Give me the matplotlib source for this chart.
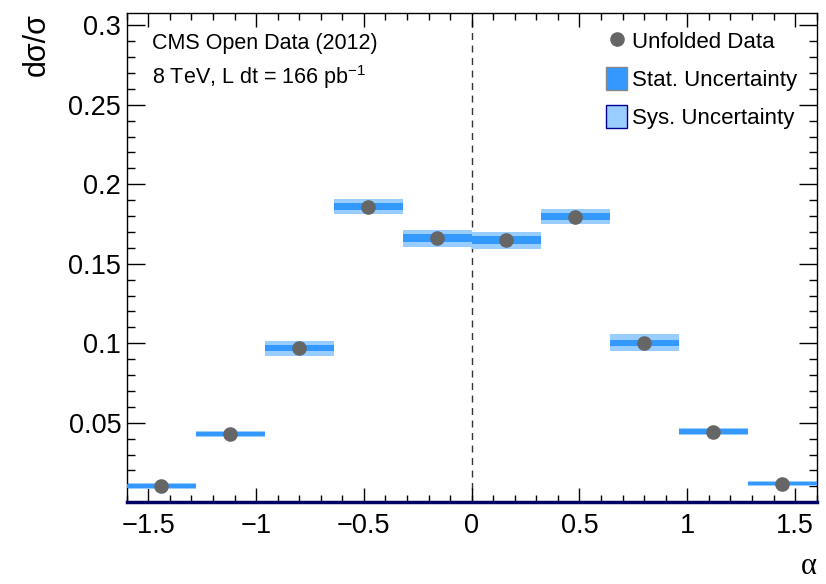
import matplotlib
import numpy as np

matplotlib.use("Agg")
import matplotlib.pyplot as plt
from matplotlib.lines import Line2D
from matplotlib.patches import Patch
from matplotlib.ticker import MultipleLocator

plt.rcParams["font.family"] = ["Liberation Sans", "DejaVu Sans"]
plt.rcParams["mathtext.fontset"] = "custom"
plt.rcParams["mathtext.rm"] = "Liberation Sans"

# 10 bins in alpha, edges -1.6 .. 1.6
BIN_EDGES = np.linspace(-1.6, 1.6, 11)
XSEC = [0.0103, 0.0430, 0.0968, 0.1859, 0.1660, 0.1647, 0.1796, 0.1004, 0.0445, 0.0118]
STAT = [0.0012, 0.0015, 0.0019, 0.0023, 0.0025, 0.0025, 0.0023, 0.0019, 0.0015, 0.0012]
SYS = [0.0018, 0.0021, 0.0049, 0.0046, 0.0055, 0.0055, 0.0046, 0.0053, 0.0021, 0.0018]

STAT_C = "#3399ff"
SYS_C = "#99ccff"

centers = 0.5 * (BIN_EDGES[:-1] + BIN_EDGES[1:])
width = np.diff(BIN_EDGES)
y = np.array(XSEC); st = np.array(STAT); sy = np.array(SYS)

fig = plt.figure(figsize=(8.26, 5.84), dpi=100)
ax = fig.add_axes([0.1534, 0.1399, 0.8353, 0.8373])

ax.bar(centers, 2 * sy, width=width, bottom=y - sy, color=SYS_C, lw=0, zorder=2)
ax.bar(centers, 2 * st, width=width, bottom=y - st, color=STAT_C, lw=0, zorder=3)
ax.plot(centers, y, "o", color="#666666", ms=9.5, zorder=5)
ax.axvline(0, color="#333333", lw=1.0, ls=(0, (5, 4)), zorder=1)
ax.axhline(0, color="#000066", lw=2.5, zorder=6, clip_on=False)

ax.set_xlim(-1.6, 1.6)
ax.set_ylim(0, 0.3075)
ax.xaxis.set_minor_locator(MultipleLocator(0.1))
ax.yaxis.set_minor_locator(MultipleLocator(0.01))
ax.set_xticks([-1.5, -1, -0.5, 0, 0.5, 1, 1.5])
ax.set_xticklabels(["\u22121.5", "\u22121", "\u22120.5", "0", "0.5", "1", "1.5"])
ax.set_yticks([0.05, 0.1, 0.15, 0.2, 0.25, 0.3])
ax.set_yticklabels(["0.05", "0.1", "0.15", "0.2", "0.25", "0.3"])
ax.tick_params(which="both", direction="in", top=True, right=True, labelsize=19.5, width=1.0)
ax.tick_params(axis="x", which="major", length=10, pad=8)
ax.tick_params(axis="x", which="minor", length=5)
ax.tick_params(axis="y", which="major", length=13, pad=4)
ax.tick_params(axis="y", which="minor", length=6)
for s in ax.spines.values():
    s.set_linewidth(1.0)

ax.set_ylabel("d\u03c3/\u03c3", fontsize=22, loc="top", labelpad=12)
ax.set_xlabel("\u03b1", fontsize=22, loc="right", family=["Liberation Serif"], labelpad=9)

ax.text(0.037, 0.939, "CMS Open Data (2012)", transform=ax.transAxes, fontsize=15.5, va="center")
ax.text(0.037, 0.869, "8 TeV, L dt = 166 pb$^{-1}$", transform=ax.transAxes, fontsize=15.5,
        va="center")

handles = [
    Line2D([], [], marker="o", ls="none", color="#666666", ms=9.5),
    Patch(facecolor=STAT_C, edgecolor="#888888", lw=1.0),
    Patch(facecolor=SYS_C, edgecolor="#000099", lw=1.0),
]
labels = ["Unfolded Data", "Stat. Uncertainty", "Sys. Uncertainty"]
ax.legend(handles, labels, loc="upper left", bbox_to_anchor=(0.695, 0.967), frameon=False,
          fontsize=16, handlelength=0.95, handleheight=1.2, handletextpad=0.22,
          labelspacing=0.62, borderaxespad=0.0, borderpad=0.0)

fig.savefig("out.png", dpi=100)
